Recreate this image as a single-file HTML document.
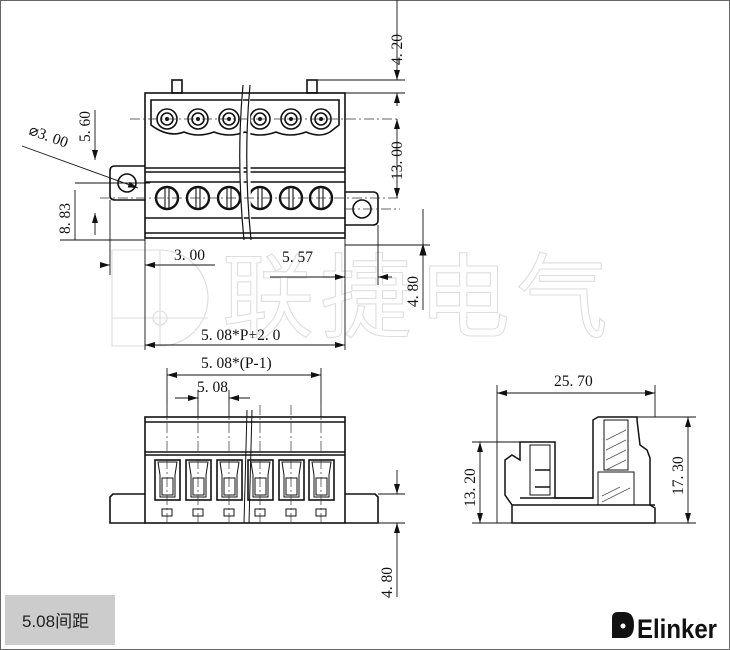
<!DOCTYPE html>
<html><head><meta charset="utf-8"><style>
html,body{margin:0;padding:0;background:#fff;}
svg{display:block;}
text{font-family:"Liberation Serif",serif;font-size:15.5px;fill:#111;}
</style></head><body>
<svg width="730" height="650" viewBox="0 0 730 650" xmlns="http://www.w3.org/2000/svg">
<defs>
<marker id="a" viewBox="0 0 10 6" refX="10" refY="3" markerWidth="10" markerHeight="6" orient="auto-start-reverse" markerUnits="userSpaceOnUse"><path d="M0,0 L10,3 L0,6z" fill="#111"/></marker>
</defs>
<rect x="0.5" y="0.5" width="729" height="649" fill="#fff" stroke="#666"/>

<!-- watermark -->
<g fill="none" stroke="#dcdcdc" stroke-width="1.1">
<path d="M160,250 A48,48 0 0 1 160,346 L112,346 L112,250 Z"/>
<line x1="112" y1="318" x2="208" y2="318"/><line x1="160" y1="250" x2="160" y2="346"/>
<circle cx="160" cy="318" r="7"/>
</g>
<text x="222" y="330" style="font-family:'Noto Sans CJK SC',sans-serif;font-size:92px;fill:#fff;stroke:#dedede;stroke-width:1.1;letter-spacing:6px">联捷电气</text>

<g stroke="#111" fill="none" stroke-width="1.6">
<!-- TOP VIEW -->
<rect x="172" y="80" width="10" height="13"/><rect x="307" y="80" width="10" height="13"/>
<rect x="145" y="93" width="200" height="145"/>
<path d="M151,100 L339,100 L339,125 L330,132 Q320,138 306,132 Q290,138 276,132 Q260,138 245,132 Q229,138 214,132 Q198,138 184,132 Q168,138 151,125 Z"/>
<g>
<circle cx="167" cy="119" r="10"/><circle cx="167" cy="119" r="6"/>
<circle cx="198" cy="119" r="10"/><circle cx="198" cy="119" r="6"/>
<circle cx="229" cy="119" r="10"/><circle cx="229" cy="119" r="6"/>
<circle cx="260" cy="119" r="10"/><circle cx="260" cy="119" r="6"/>
<circle cx="291" cy="119" r="10"/><circle cx="291" cy="119" r="6"/>
<circle cx="321" cy="119" r="10"/><circle cx="321" cy="119" r="6"/>
</g>
<g fill="#111" stroke="none">
<circle cx="167" cy="119" r="2"/><circle cx="198" cy="119" r="2"/><circle cx="229" cy="119" r="2"/>
<circle cx="260" cy="119" r="2"/><circle cx="291" cy="119" r="2"/><circle cx="321" cy="119" r="2"/>
</g>
<line x1="145" y1="168" x2="345" y2="168"/><line x1="145" y1="172" x2="345" y2="172"/>
<line x1="145" y1="182" x2="345" y2="182"/><line x1="145" y1="218" x2="345" y2="218"/>
<line x1="145" y1="233" x2="345" y2="233"/>
<g stroke-width="2.4">
<circle cx="167" cy="198" r="11"/><circle cx="198" cy="198" r="11"/><circle cx="229" cy="198" r="11"/>
<circle cx="260" cy="198" r="11"/><circle cx="291" cy="198" r="11"/><circle cx="321" cy="198" r="11"/>
</g>
<g stroke-width="1.1"><line x1="165" y1="188" x2="165" y2="208"/><line x1="169" y1="188" x2="169" y2="208"/>
<line x1="196" y1="188" x2="196" y2="208"/><line x1="200" y1="188" x2="200" y2="208"/>
<line x1="227" y1="188" x2="227" y2="208"/><line x1="231" y1="188" x2="231" y2="208"/>
<line x1="258" y1="188" x2="258" y2="208"/><line x1="262" y1="188" x2="262" y2="208"/>
<line x1="289" y1="188" x2="289" y2="208"/><line x1="293" y1="188" x2="293" y2="208"/>
<line x1="319" y1="188" x2="319" y2="208"/><line x1="323" y1="188" x2="323" y2="208"/></g>
<path d="M145,166 L115,166 Q110,166 110,171 L110,195 Q110,200 115,200 L145,200"/>
<circle cx="127" cy="183" r="9"/>
<path d="M345,192 L373,192 Q378,192 378,197 L378,220 Q378,225 373,225 L345,225"/>
<circle cx="362" cy="209" r="9"/>
</g>
<path d="M243,85 Q236,160 244,240 M250,85 Q243,160 251,240" stroke="#111" fill="#fff" stroke-width="1.2"/>
<g stroke="#333" stroke-width="0.7" stroke-dasharray="10,3,2,3" fill="none">
<line x1="130" y1="119" x2="400" y2="119"/><line x1="100" y1="198" x2="400" y2="198"/>
<line x1="100" y1="183" x2="150" y2="183"/><line x1="345" y1="209" x2="400" y2="209"/>
</g>

<!-- dims top view -->
<g stroke="#111" stroke-width="0.9" fill="none">
<line x1="320" y1="93" x2="405" y2="93"/><line x1="317" y1="80" x2="405" y2="80"/>
<line x1="397" y1="0" x2="397" y2="80" marker-end="url(#a)"/>
<line x1="397" y1="93" x2="397" y2="106" marker-start="url(#a)"/>
<line x1="397" y1="119" x2="397" y2="198" marker-start="url(#a)" marker-end="url(#a)"/>
<line x1="95" y1="110" x2="95" y2="160" marker-end="url(#a)"/>
<line x1="95" y1="213" x2="95" y2="235" marker-start="url(#a)"/>
<line x1="75" y1="183" x2="150" y2="183"/>
<line x1="75" y1="190" x2="75" y2="240"/>
<line x1="60" y1="240" x2="145" y2="240"/>
<line x1="22" y1="146" x2="138" y2="188" marker-end="url(#a)"/>
<line x1="110" y1="200" x2="110" y2="275"/><line x1="145" y1="238" x2="145" y2="350"/>
<line x1="345" y1="238" x2="345" y2="350"/><line x1="378" y1="225" x2="378" y2="285"/>
<line x1="100" y1="265" x2="110" y2="265" marker-end="url(#a)"/>
<line x1="145" y1="265" x2="215" y2="265" marker-start="url(#a)"/>
<line x1="270" y1="277" x2="345" y2="277" marker-end="url(#a)"/>
<line x1="378" y1="277" x2="392" y2="277" marker-start="url(#a)"/>
<line x1="423" y1="209" x2="423" y2="245"/>
<line x1="423" y1="248" x2="423" y2="310"/>
<line x1="345" y1="245" x2="430" y2="245"/>
<path d="M423,245 L420,255 L426,255Z" fill="#111"/>
<line x1="145" y1="345" x2="345" y2="345" marker-start="url(#a)" marker-end="url(#a)"/>
<line x1="167" y1="375" x2="321" y2="375" marker-start="url(#a)" marker-end="url(#a)"/>
<line x1="167" y1="368" x2="167" y2="417"/><line x1="321" y1="368" x2="321" y2="417"/>
<line x1="175" y1="398" x2="198" y2="398" marker-end="url(#a)"/>
<line x1="229" y1="398" x2="250" y2="398" marker-start="url(#a)"/>
<line x1="198" y1="390" x2="198" y2="417"/><line x1="229" y1="390" x2="229" y2="417"/>
</g>
<text transform="translate(402,65) rotate(-90)">4. 20</text>
<text transform="translate(402,180) rotate(-90)">13. 00</text>
<text transform="translate(90,142) rotate(-90)">5. 60</text>
<text transform="translate(70,234) rotate(-90)">8. 83</text>
<text transform="translate(28,134) rotate(20)">⌀3. 00</text>
<text x="174" y="260">3. 00</text>
<text x="282" y="262">5. 57</text>
<text transform="translate(418,307) rotate(-90)">4. 80</text>
<text x="201" y="340">5. 08*P+2. 0</text>
<text x="201" y="368">5. 08*(P-1)</text>
<text x="197" y="392">5. 08</text>

<!-- FRONT VIEW -->
<g stroke="#111" fill="none" stroke-width="1.6">
<rect x="145" y="417" width="200" height="106"/>
<line x1="145" y1="422" x2="345" y2="422"/><line x1="145" y1="452" x2="345" y2="452"/><line x1="145" y1="455" x2="345" y2="455"/>
<path d="M145,494 L113,494 L110,497 L110,523 L145,523"/>
<path d="M345,494 L375,494 L378,497 L378,523 L345,523"/>
<g id="w">
<rect x="155" y="460" width="25" height="40"/>
<path d="M158,462 L177,462 L175,475 L175,497 L160,497 L160,475Z" stroke-width="1"/>
<rect x="162" y="478" width="11" height="17" stroke-width="1"/>
<rect x="162" y="509" width="10" height="7" stroke-width="1"/>
</g>
<use href="#w" x="31"/><use href="#w" x="62"/><use href="#w" x="93"/><use href="#w" x="124"/><use href="#w" x="154"/>
</g>
<path d="M247,410 L244,523 M252,410 L249,523" stroke="#111" stroke-width="1" fill="none"/>
<g stroke="#333" stroke-width="0.7" stroke-dasharray="10,3,2,3">
<line x1="167" y1="405" x2="167" y2="525"/><line x1="198" y1="405" x2="198" y2="525"/><line x1="229" y1="405" x2="229" y2="525"/>
<line x1="260" y1="405" x2="260" y2="525"/><line x1="291" y1="405" x2="291" y2="525"/><line x1="321" y1="405" x2="321" y2="525"/>
</g>
<g stroke="#111" stroke-width="0.9" fill="none">
<line x1="378" y1="494" x2="405" y2="494"/><line x1="378" y1="523" x2="405" y2="523"/>
<line x1="397" y1="470" x2="397" y2="494" marker-end="url(#a)"/>
<line x1="397" y1="523" x2="397" y2="597" marker-start="url(#a)"/>
</g>
<text transform="translate(392,598) rotate(-90)">4. 80</text>

<!-- SIDE VIEW -->
<g stroke="#111" fill="none" stroke-width="1.5">
<path d="M512,523 L655,523 L655,508 L650,505 L650,458 L647,450 L640,445 L637,420 L637,417 L598,417 L593,420 L593,498 L555,498 L555,442 L520,442 L520,460 L512,455 L505,460 L505,495 L512,505 Z"/>
<line x1="512" y1="505" x2="655" y2="505"/>
<line x1="520" y1="498" x2="593" y2="498"/>
<rect x="604" y="420" width="24" height="50" stroke-width="1"/>
<rect x="598" y="472" width="36" height="33" stroke-width="1"/>
<rect x="530" y="445" width="20" height="50" stroke-width="1"/>
<line x1="535" y1="470" x2="550" y2="470"/><line x1="535" y1="487" x2="550" y2="487"/>
</g>
<g stroke="#555" stroke-width="0.7">
<line x1="606" y1="440" x2="626" y2="430"/><line x1="606" y1="450" x2="626" y2="440"/><line x1="606" y1="460" x2="626" y2="450"/>
<line x1="606" y1="470" x2="626" y2="460"/>
<line x1="602" y1="502" x2="630" y2="488"/><line x1="602" y1="496" x2="620" y2="487"/>
</g>
<g stroke="#111" stroke-width="0.9" fill="none">
<line x1="497" y1="385" x2="497" y2="523"/><line x1="655" y1="385" x2="655" y2="417"/>
<line x1="497" y1="393" x2="655" y2="393" marker-start="url(#a)" marker-end="url(#a)"/>
<line x1="472" y1="442" x2="520" y2="442"/><line x1="472" y1="523" x2="512" y2="523"/>
<line x1="480" y1="442" x2="480" y2="523" marker-start="url(#a)" marker-end="url(#a)"/>
<line x1="637" y1="417" x2="696" y2="417"/><line x1="655" y1="523" x2="696" y2="523"/>
<line x1="688" y1="417" x2="688" y2="523" marker-start="url(#a)" marker-end="url(#a)"/>
</g>
<text x="554" y="386">25. 70</text>
<text transform="translate(475,507) rotate(-90)">13. 20</text>
<text transform="translate(683,495) rotate(-90)">17. 30</text>

<!-- footer -->
<rect x="5" y="595" width="110" height="50" fill="#cccccc"/>
<text x="22" y="627" style="font-family:'Liberation Sans','Noto Sans CJK SC',sans-serif;font-size:17px;fill:#222">5.08间距</text>
<path d="M612,638 L612,618 Q612,612 618,612 L624,612 Q634,612 634,625 Q634,638 624,638Z" fill="#111"/>
<circle cx="623" cy="626" r="2.5" fill="#fff"/>
<text x="637" y="638" style="font-family:'Liberation Sans',sans-serif;font-weight:bold;font-size:27px;fill:#111" textLength="80" lengthAdjust="spacingAndGlyphs">Elinker</text>
</svg>
</body></html>
